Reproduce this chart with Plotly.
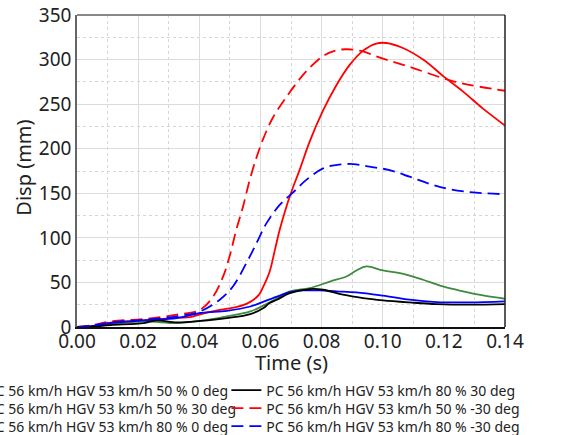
import plotly.graph_objects as go

# ---------------- data ----------------
t_red = [0, 0.005, 0.011, 0.022, 0.033, 0.037, 0.040, 0.0436, 0.0499, 0.0523, 0.0554, 0.0575, 0.0595,
         0.0609, 0.063, 0.0647, 0.0663, 0.0685, 0.0707, 0.0728, 0.0761, 0.0805, 0.0848, 0.0892, 0.0936,
         0.0979, 0.1012, 0.1066, 0.1132, 0.1201, 0.1263, 0.1328, 0.14]
v_red = [0, 1, 5, 7.5, 10.5, 11, 14, 17, 21, 22.5, 26, 30, 36,
         45, 62, 86, 109, 135, 157, 176, 208, 243, 271, 294, 310,
         318, 318.6, 313, 300, 280.6, 264, 245, 226]

t_green = [0, 0.005, 0.0109, 0.0218, 0.0327, 0.0403, 0.049, 0.0567, 0.0632, 0.0696, 0.0761, 0.0827,
           0.0881, 0.0914, 0.0947, 0.1001, 0.1067, 0.1132, 0.1197, 0.1263, 0.1328, 0.14]
v_green = [0, 0.5, 3, 6.3, 4.4, 6.8, 12, 17.5, 28, 39.9, 43.6, 51,
           56.7, 63.4, 67.9, 63.4, 59.7, 53, 45.5, 40, 35.4, 31.7]

t_blue = [0, 0.005, 0.0109, 0.0218, 0.0327, 0.0403, 0.049, 0.0567, 0.063, 0.0654, 0.0696, 0.0739,
          0.0794, 0.0849, 0.0914, 0.1001, 0.1088, 0.1176, 0.1285, 0.14]
v_blue = [0, 1, 4.4, 7.4, 10, 15.7, 18.2, 23, 31, 34, 39, 41,
          41, 40, 38.8, 35.1, 30.6, 28, 27.6, 28.8]

t_black = [0, 0.005, 0.0109, 0.0218, 0.026, 0.0327, 0.0403, 0.049, 0.0567, 0.061, 0.063, 0.0654,
           0.0696, 0.0761, 0.0805, 0.087, 0.0936, 0.1001, 0.1088, 0.1176, 0.1285, 0.14]
v_black = [0, 0.5, 2.2, 4.4, 7.4, 5.2, 6.8, 10, 14.5, 21.3, 26.9, 30.6,
           38, 42.5, 41.8, 36.2, 32.4, 29.9, 27.6, 25.7, 25, 25.7]

t_red_d = [0, 0.005, 0.0109, 0.0218, 0.0327, 0.0403, 0.0445, 0.0478, 0.0499, 0.0521, 0.0543, 0.0565,
           0.0587, 0.0609, 0.0641, 0.0685, 0.0728, 0.0756, 0.0805, 0.0845, 0.0881, 0.0925, 0.1001,
           0.1088, 0.1201, 0.1263, 0.14]
v_red_d = [0, 2, 6.3, 8.9, 13.8, 19.4, 34, 56.7, 79, 109, 135, 165,
           190, 211, 235, 258, 278, 289, 304, 310, 311.6, 310, 301,
           291.8, 278.8, 273, 265]

t_blue_d = [0, 0.005, 0.0109, 0.0218, 0.0327, 0.0403, 0.0467, 0.0510, 0.0554, 0.0587, 0.0620, 0.0663,
            0.0707, 0.0750, 0.0805, 0.0848, 0.0903, 0.0957, 0.1023, 0.1088, 0.1154, 0.1219, 0.1306, 0.14]
v_blue_d = [0, 1.5, 5, 8, 12, 17.5, 30.6, 45.5, 71.7, 94, 116.5, 137,
            151, 165, 178, 181.7, 182.8, 179.8, 176, 168.6, 160.5, 154.5, 150.7, 149]

x_ticks = [0, 0.02, 0.04, 0.06, 0.08, 0.10, 0.12, 0.14]
x_tick_labels = ["0.00", "0.02", "0.04", "0.06", "0.08", "0.10", "0.12", "0.14"]
y_ticks = [0, 50, 100, 150, 200, 250, 300, 350]

names = [
    "PC 56 km/h HGV 53 km/h 50 % 0 deg",
    "PC 56 km/h HGV 53 km/h 50 % 30 deg",
    "PC 56 km/h HGV 53 km/h 80 % 0 deg",
    "PC 56 km/h HGV 53 km/h 80 % 30 deg",
    "PC 56 km/h HGV 53 km/h 50 % -30 deg",
    "PC 56 km/h HGV 53 km/h 80 % -30 deg",
]
x_title = "Time (s)"
y_title = "Disp (mm)"

RED, GREEN, BLUE, BLACK = "#ff0000", "#3d8b3d", "#0000ff", "#000000"
DASH = "12px,6px"
LW = 1.8
FONT = "Noto Sans"

# legend grid: 2 columns x 3 rows (one single-entry legend per cell)
COL_X = [-0.303, 0.349]
ROW_Y = [-0.1526, -0.2102, -0.2677]

series = [
    (t_red, v_red, names[0], RED, "solid", 0, 0),
    (t_green, v_green, names[1], GREEN, "solid", 0, 1),
    (t_blue, v_blue, names[2], BLUE, "solid", 0, 2),
    (t_black, v_black, names[3], BLACK, "solid", 1, 0),
    (t_red_d, v_red_d, names[4], RED, DASH, 1, 1),
    (t_blue_d, v_blue_d, names[5], BLUE, DASH, 1, 2),
]

fig = go.Figure()
legends = {}
for i, (tx, vy, nm, col, dash, c, r) in enumerate(series):
    key = "legend" if i == 0 else f"legend{i + 1}"
    fig.add_trace(go.Scatter(
        x=tx, y=vy, name=nm, mode="lines",
        line=dict(color=col, width=LW, dash=dash, shape="spline", smoothing=1.0),
        legend=key,
    ))
    legends[key] = dict(
        orientation="v", font=dict(family=FONT, size=14), bgcolor="rgba(0,0,0,0)",
        yanchor="top", y=ROW_Y[r], xanchor="left", x=COL_X[c],
    )

fig.update_layout(
    width=587, height=435,
    margin=dict(l=77.3, r=81.7, t=14.7, b=107.7, autoexpand=False),
    paper_bgcolor="white", plot_bgcolor="white",
    font=dict(family=FONT, size=19, color="#222"),
    showlegend=True,
    **legends,
    xaxis=dict(
        range=[0, 0.14], tickvals=x_ticks, ticktext=x_tick_labels,
        showgrid=True, gridcolor="#dcdcdc", gridwidth=1,
        minor=dict(dtick=0.01, showgrid=True, gridcolor="#d6d6d6", griddash="dot", gridwidth=1),
        showline=True, linecolor="#111", linewidth=1.5, mirror=False,
        ticks="", zeroline=False, ticklabelstandoff=-4, ticklabeloverflow="allow",
        tickfont=dict(size=19),
    ),
    yaxis=dict(
        range=[0, 350], tickvals=y_ticks,
        showgrid=True, gridcolor="#dcdcdc", gridwidth=1,
        minor=dict(dtick=25, showgrid=True, gridcolor="#d6d6d6", griddash="dot", gridwidth=1),
        showline=True, linecolor="#666", linewidth=1.5, mirror=False,
        ticks="", zeroline=False, ticklabeloverflow="allow",
        tickfont=dict(size=19),
    ),
    shapes=[
        dict(type="line", xref="paper", yref="paper", x0=0, x1=1, y0=1, y1=1,
             line=dict(color="#888", width=2)),
        dict(type="line", xref="paper", yref="paper", x0=1, x1=1, y0=0, y1=1,
             line=dict(color="#222", width=1.5)),
    ],
    annotations=[
        dict(text=x_title, xref="paper", yref="paper", x=0.5, y=0, xanchor="center",
             yanchor="middle", yshift=-35, showarrow=False, font=dict(size=20)),
        dict(text=y_title, xref="paper", yref="paper", x=0, y=0.5, xanchor="center",
             yanchor="middle", xshift=-54.3, yshift=3, textangle=-90, showarrow=False,
             font=dict(size=20)),
    ],
)

# remove the browser's default 8px body margin so the figure sits at the window's corner
fig.write_html("out.html", config={"displayModeBar": False},
               post_script="document.body.style.margin='0';")
